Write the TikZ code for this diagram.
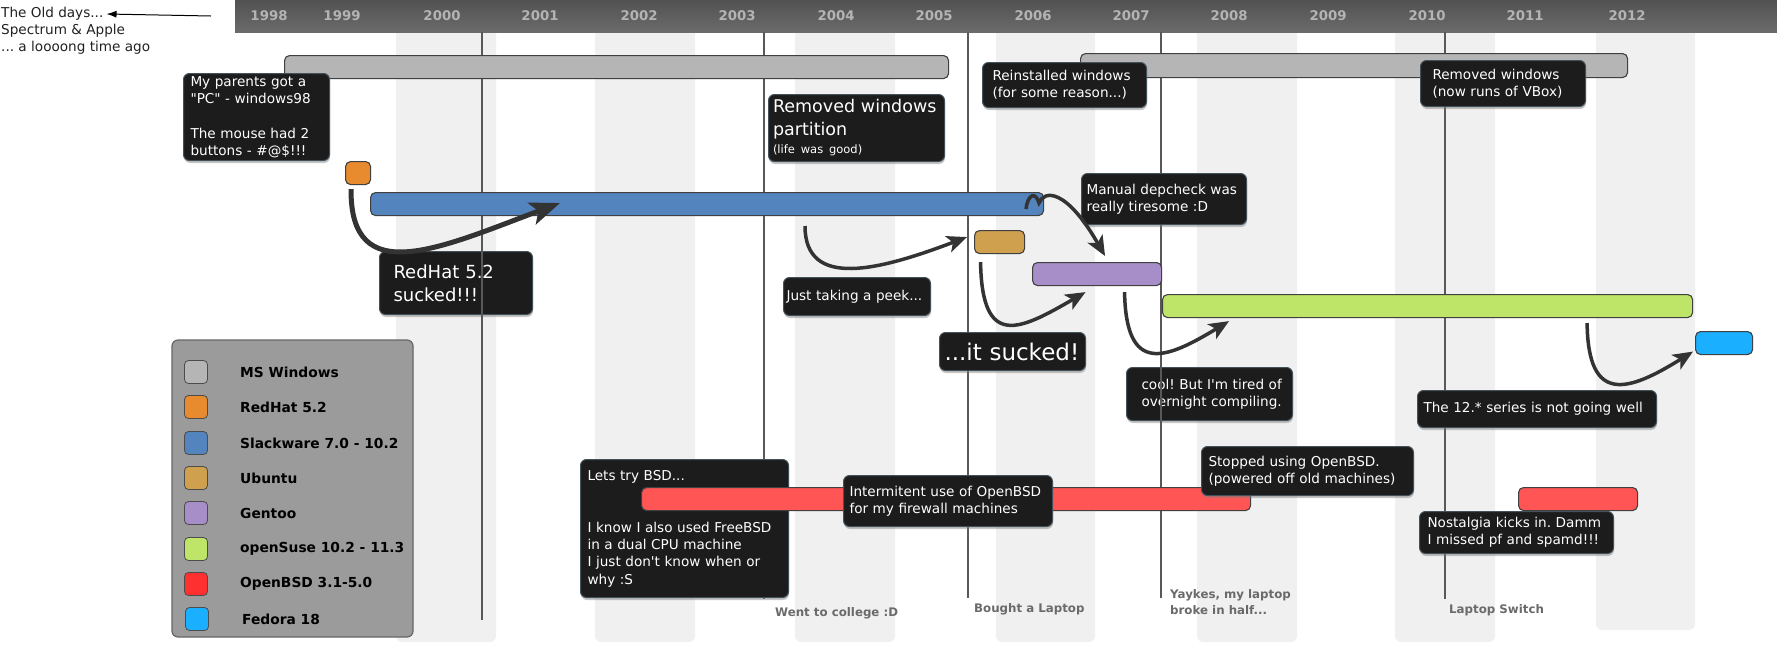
\documentclass[tikz,border=0pt]{standalone}
\usepackage{fontspec}
\setmainfont{DejaVu Sans}[Ligatures=TeXOff]
\usetikzlibrary{arrows.meta,shadows}
\frenchspacing

\definecolor{winfill}{HTML}{B5B5B5}
\definecolor{rhfill}{HTML}{E88B2E}
\definecolor{slackfill}{HTML}{5484BE}
\definecolor{ubufill}{HTML}{CFA14F}
\definecolor{gentfill}{HTML}{A78EC8}
\definecolor{susefill}{HTML}{BEE567}
\definecolor{bsdfill}{HTML}{FF5555}
\definecolor{bsdkey}{HTML}{FF3030}
\definecolor{fedfill}{HTML}{1AAFFF}
\definecolor{notefill}{HTML}{1C1C1C}
\definecolor{noteline}{HTML}{42515A}
\definecolor{stripe}{HTML}{F0F0F0}
\definecolor{evline}{HTML}{585858}
\definecolor{evtext}{HTML}{6A6A6A}
\definecolor{yeartext}{HTML}{B4B4B4}
\definecolor{arrowgray}{HTML}{333333}
\definecolor{keybg}{HTML}{9B9B9B}

\tikzset{
  bar/.style={draw=black!75, line width=1.1pt, rounded corners=5pt, inner sep=0pt, anchor=north west, minimum height=23pt},
  note/.style={fill=notefill, draw=noteline, line width=1pt, rounded corners=6pt, text=white, anchor=north west, align=left, inner ysep=2pt, font=\fontsize{13.6}{17.3}\selectfont, drop shadow={opacity=0.45, shadow xshift=0.5pt, shadow yshift=-2.5pt}},
  year/.style={text=yeartext, font=\bfseries\fontsize{13.3}{16}\selectfont},
  event/.style={text=evtext, font=\bfseries\fontsize{11.8}{16}\selectfont, anchor=west, inner sep=0pt, align=left},
  oldtext/.style={anchor=west, inner sep=0pt, text=black!87, font=\fontsize{13.6}{17.3}\selectfont},
  keybox/.style={draw=black!70, line width=0.8pt, rounded corners=4pt, minimum size=23pt, inner sep=0pt},
  keytext/.style={anchor=west, inner sep=0pt, font=\bfseries\fontsize{13.8}{16}\selectfont},
  flow/.style={draw=arrowgray, line width=3.5pt, -{Stealth[length=20pt,width=17pt,inset=5pt]}},
}

\begin{document}
\begin{tikzpicture}[x=1pt,y=-1pt]
\useasboundingbox (0,0) rectangle (1777,649);
% stripes
\fill[stripe, rounded corners=6pt] (396,20) rectangle (496,642);
\fill[stripe, rounded corners=6pt] (595,20) rectangle (695,642);
\fill[stripe, rounded corners=6pt] (795,20) rectangle (895,642);
\fill[stripe, rounded corners=6pt] (996,20) rectangle (1095,642);
\fill[stripe, rounded corners=6pt] (1197,20) rectangle (1297,642);
\fill[stripe, rounded corners=6pt] (1395,20) rectangle (1495,642);
\fill[stripe, rounded corners=6pt] (1596,20) rectangle (1695,630);

% header
\shade[top color=black!68, bottom color=black!58] (235,0) rectangle (1777,32);
\node[year] (y1998) at (269,16) {1998};
\node[year] (y1999) at (342,16) {1999};
\node[year] (y2000) at (442,16) {2000};
\node[year] (y2001) at (540,16) {2001};
\node[year] (y2002) at (639,16) {2002};
\node[year] (y2003) at (737,16) {2003};
\node[year] (y2004) at (836,16) {2004};
\node[year] (y2005) at (934,16) {2005};
\node[year] (y2006) at (1033,16) {2006};
\node[year] (y2007) at (1131,16) {2007};
\node[year] (y2008) at (1229,16) {2008};
\node[year] (y2009) at (1328,16) {2009};
\node[year] (y2010) at (1427,16) {2010};
\node[year] (y2011) at (1525,16) {2011};
\node[year] (y2012) at (1627,16) {2012};

% the old days
\node[oldtext] (old1) at (1,14) {The Old days...};
\node[oldtext] (old2) at (1,31) {Spectrum \& Apple};
\node[oldtext] (old3) at (1,48) {... a loooong time ago};
\coordinate (oldfrom) at (211,16);
\draw[line width=1pt, -{Latex[length=10pt,width=7pt]}] (oldfrom) -- ([xshift=3pt]old1.east);

% notes under the event lines
\node[note, text width=125pt, inner xsep=14pt, minimum height=63pt, font=\fontsize{18}{23}\selectfont] (rhnote) at (379,251) {RedHat 5.2\\sucked!!!};
\node[note, text width=148pt, inner xsep=9pt, minimum height=53pt] (coolnote) at (1126,367) {\hspace*{6pt}cool! But I'm tired of\\\hspace*{6pt}overnight compiling.};

% events
\draw[evline, line width=1.5pt] (482,32) -- (482,620);
\draw[evline, line width=1.5pt] (764,32) -- (764,599);
\draw[evline, line width=1.5pt] (968,32) -- (968,598);
\draw[evline, line width=1.5pt] (1161,32) -- (1161,598);
\draw[evline, line width=1.5pt] (1445,32) -- (1445,599);
\node[event] (college) at (775,613) {Went to college :D};
\node[event] (laptop) at (974,609) {Bought a Laptop};
\node[event, anchor=north west] (broke) at (1170,589) {Yaykes, my laptop\\broke in half...};
\node[event] (switch) at (1449,610) {Laptop Switch};

% bars
\node[bar, fill=winfill, minimum width=664pt] (win1) at (284,55) {};
\node[bar, fill=winfill, minimum width=547pt, minimum height=24pt] (win2) at (1080,53) {};
\node[bar, fill=rhfill, minimum width=25pt] (redhat) at (345,161) {};
\node[bar, fill=slackfill, minimum width=673pt] (slack) at (370,192) {};
\node[bar, fill=ubufill, minimum width=50pt] (ubuntu) at (974,230) {};
\node[bar, fill=gentfill, minimum width=129pt] (gentoo) at (1032,262) {};
\node[bar, fill=susefill, minimum width=530pt] (suse) at (1162,294) {};
\node[bar, fill=fedfill, minimum width=57pt] (fedora) at (1695,331) {};
\node[bar, fill=bsdfill, minimum width=119pt] (bsd2) at (1518,487) {};

% notes
\node[note, text width=132pt, inner xsep=7pt, minimum height=87pt] (parents) at (183,73) {My parents got a\\"PC" - windows98\\[17.3pt]The mouse had 2\\buttons - \#@\$!!!};
\node[note, text width=167pt, inner xsep=4.5pt, minimum height=67pt, font=\fontsize{17.5}{23}\selectfont] (partition) at (768,94) {Removed windows\\partition\par{\fontsize{11.5}{18}\selectfont (life was good)\par}};
\node[note, text width=144pt, inner xsep=10pt, minimum height=45pt] (reinstall) at (982,62) {Reinstalled windows\\(for some reason...)};
\node[note, text width=141pt, inner xsep=12pt, minimum height=46pt] (vbox) at (1420,60) {Removed windows\\(now runs of VBox)};
\node[note, text width=155pt, inner xsep=5pt, minimum height=51pt] (depcheck) at (1081,173) {Manual depcheck was\\really tiresome :D};
\node[note, text width=141pt, inner xsep=3pt, minimum height=38pt] (peek) at (783,277) {Just taking a peek...};
\node[note, text width=136pt, inner xsep=5pt, minimum height=38pt, font=\fontsize{23}{27}\selectfont] (sucked) at (939,332) {...it sucked!};
\node[note, text width=227pt, inner xsep=6pt, minimum height=37pt] (twelve) at (1417,390) {The 12.* series is not going well};
\node[note, text width=178pt, inner xsep=8pt, minimum height=42pt] (nostalgia) at (1419,511) {Nostalgia kicks in. Damm\\I missed pf and spamd!!!};
\node[note, text width=194pt, inner xsep=7pt, minimum height=138pt] (bsdnote) at (580,459) {Lets try BSD...\\[34.6pt]I know I also used FreeBSD\\in a dual CPU machine\\I just don't know when or\\why :S};

\node[bar, fill=bsdfill, minimum width=609pt] (bsd1) at (641,487) {};
\node[note, text width=197pt, inner xsep=6pt, minimum height=51pt] (intermit) at (843,475) {Intermitent use of OpenBSD\\for my firewall machines};
\node[note, text width=198pt, inner xsep=7pt, minimum height=49pt] (stopped) at (1201,446) {Stopped using OpenBSD.\\(powered off old machines)};

% legend
\draw[draw=black!60, fill=keybg, line width=1.2pt, rounded corners=6pt] (172,340) rectangle (413,637);
\node[keybox, fill=winfill] (kwin) at (196,372) {};
\node[keytext] (lwin) at (240,372) {MS Windows};
\node[keybox, fill=rhfill] (krh) at (196,407) {};
\node[keytext] (lrh) at (240,407) {RedHat 5.2};
\node[keybox, fill=slackfill] (kslack) at (196,443) {};
\node[keytext] (lslack) at (240,443) {Slackware 7.0 - 10.2};
\node[keybox, fill=ubufill] (kubu) at (196,478) {};
\node[keytext] (lubu) at (240,478) {Ubuntu};
\node[keybox, fill=gentfill] (kgent) at (196,513) {};
\node[keytext] (lgent) at (240,513) {Gentoo};
\node[keybox, fill=susefill] (ksuse) at (196,549) {};
\node[keytext] (lsuse) at (240,549) {openSuse 10.2 - 11.3};
\node[keybox, fill=bsdkey] (kbsd) at (196,584) {};
\node[keytext] (lbsd) at (240,584) {OpenBSD 3.1-5.0};
\node[keybox, fill=fedfill] (kfed) at (197,619) {};
\node[keytext] (lfed) at (242,619) {Fedora 18};

% switches
\coordinate (rhto) at (560,203);
\draw[flow, line width=5pt, -{Stealth[length=30pt,width=23pt,inset=7pt]}] ([xshift=-7pt,yshift=-4pt]redhat.south) .. controls (350,290) and (440,248) .. (rhto);
\coordinate (peekfrom) at (805,226);
\draw[flow] (peekfrom) .. controls (805,290) and (880,270) .. ([xshift=-7pt,yshift=5pt]ubuntu.west);
\coordinate (depfrom) at (1026,209);
\draw[flow] (depfrom) .. controls (1028,193) and (1036,192) .. (1039,203) .. controls (1044,190) and (1066,188) .. ([xshift=8pt,yshift=6pt]gentoo.north);
\draw[flow] ([xshift=-19pt,yshift=-8pt]ubuntu.south) .. controls (982,350) and (1020,330) .. ([xshift=-11.5pt,yshift=-6pt]gentoo.south);
\draw[flow] ([xshift=27.5pt,yshift=-6pt]gentoo.south) .. controls (1126,375) and (1165,360) .. ([xshift=67pt,yshift=-3pt]suse.south west);
\draw[flow] ([xshift=-106pt,yshift=-5pt]suse.south east) .. controls (1588,405) and (1628,392) .. ([xshift=-2pt,yshift=-8.5pt]fedora.west);
\end{tikzpicture}
\end{document}
